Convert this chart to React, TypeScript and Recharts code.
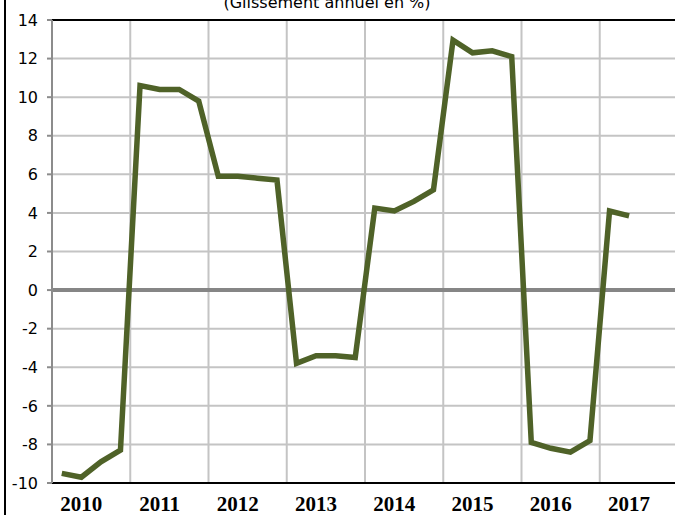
import { LineChart, Line, XAxis, YAxis, CartesianGrid, ReferenceLine } from 'recharts';

// Glissement annuel (%), trimestriel 2010T1 - 2017T2
const YEARS = ['2010', '2011', '2012', '2013', '2014', '2015', '2016', '2017'];
const VALUES: (number | null)[] = [
    -9.5, -9.7, -8.9, -8.3,
    10.6, 10.4, 10.4, 9.8,
    5.9, 5.9, 5.8, 5.7,
    -3.8, -3.4, -3.4, -3.5,
    4.25, 4.1, 4.6, 5.2,
    12.95, 12.3, 12.4, 12.1,
    -7.9, -8.2, -8.4, -7.8,
    4.1, 3.85, null, null,
];
const Y_TICKS = [-10, -8, -6, -4, -2, 0, 2, 4, 6, 8, 10, 12, 14];
const YEAR_BOUNDS = [4, 8, 12, 16, 20, 24, 28, 32];
const LABEL_POS = [1.5, 5.5, 9.5, 13.5, 17.5, 21.5, 25.5, 29.5];

const data = VALUES.map((v, i) => ({ x: i + 0.5, v }));

const YearTick = (props: any) => {
    const { x, y, payload } = props;
    const idx = LABEL_POS.indexOf(payload.value);
    return (
        <text x={x} y={y} dy={28} textAnchor="middle" fill="#000"
            style={{ fontFamily: '"Liberation Serif", serif', fontWeight: 'bold', fontSize: 21 }}>
            {YEARS[idx]}
        </text>
    );
};

export default function App() {
    return (
        <div style={{ position: 'absolute', left: 0, top: 0, width: 675, height: 515, overflow: 'hidden', background: '#fff' }}>
            <div style={{ position: 'absolute', left: 4, top: 0, width: 2, height: 515, background: '#000' }} />
            <svg style={{ position: 'absolute', left: 0, top: 0 }} width={675} height={20}>
                <text x={327} y={8} textAnchor="middle" fill="#000"
                    style={{ fontFamily: '"DejaVu Sans", sans-serif', fontSize: 16 }}>
                    (Glissement annuel en %)
                </text>
            </svg>
            <div style={{ position: 'absolute', left: 0, top: 0 }}>
                <LineChart width={678} height={515} data={data}
                    margin={{ top: 20, right: 0, bottom: 0, left: 0 }}>
                    <CartesianGrid vertical={false} stroke="#c4c4c4" strokeWidth={2} />
                    <XAxis dataKey="x" type="number" domain={[0, 32]} ticks={LABEL_POS}
                        tick={<YearTick />} tickLine={false} tickSize={0} tickMargin={0}
                        axisLine={{ stroke: '#000', strokeWidth: 2 }} height={32} />
                    <YAxis domain={[-10, 14]} ticks={Y_TICKS} width={52} interval={0}
                        axisLine={{ stroke: '#8c8c8c', strokeWidth: 2 }}
                        tickLine={{ stroke: '#8c8c8c', strokeWidth: 2 }}
                        tickSize={5} tickMargin={9}
                        tick={{ fill: '#000', fontSize: 16, fontFamily: '"DejaVu Sans", sans-serif' }} />
                    {YEAR_BOUNDS.map(b => (
                        <ReferenceLine key={b} x={b} stroke="#c4c4c4" strokeWidth={2} />
                    ))}
                    <ReferenceLine y={14} stroke="#000" strokeWidth={2} />
                    <ReferenceLine y={0} stroke="#868686" strokeWidth={4} />
                    <Line dataKey="v" stroke="#4f6228" strokeWidth={5.5} dot={false}
                        isAnimationActive={false} connectNulls={false} />
                </LineChart>
            </div>
        </div>
    );
}
